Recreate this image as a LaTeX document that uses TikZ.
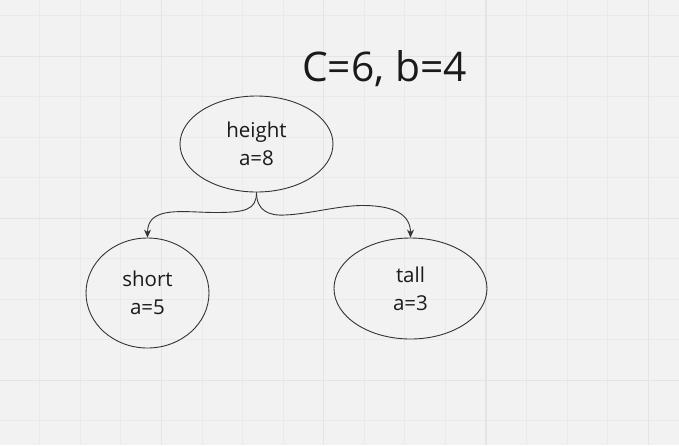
\documentclass[tikz,border=0pt]{standalone}
\usepackage{fontspec}
\setmainfont{Open Sans}
\usepackage{tikz}
\usetikzlibrary{arrows.meta,positioning,shapes.geometric}
\definecolor{paper}{HTML}{F2F2F2}
\definecolor{minorgrid}{HTML}{EAEAEA}
\definecolor{majorgrid}{HTML}{E4E4E4}
\definecolor{ink}{HTML}{333333}
\definecolor{txt}{HTML}{1A1A1A}

\begin{document}
\begin{tikzpicture}[x=1pt, y=-1pt,
  blob/.style={draw=ink, line width=0.9pt, ellipse, inner sep=0pt,
               align=center, text=txt,
               font=\fontsize{20.5}{28}\selectfont},
  link/.style={draw=ink, line width=0.9pt,
               -{Stealth[length=8pt, width=7pt]}},
]
\useasboundingbox (0,0) rectangle (679,445);
% Background grid
\fill[paper] (0,0) rectangle (679,445);
\foreach \k in {0,...,17}
  \draw[minorgrid, line width=1pt] (-0.7+40.55*\k,0) -- (-0.7+40.55*\k,445);
\foreach \k in {-1,...,9}
  \draw[minorgrid, line width=1pt] (0,56.3+40.5*\k) -- (679,56.3+40.5*\k);
\foreach \k in {1,...,4}
  \draw[majorgrid, line width=1.2pt] (-0.7+162.2*\k,0) -- (-0.7+162.2*\k,445);
\foreach \k in {0,1,2}
  \draw[majorgrid, line width=1.2pt] (0,56.3+162*\k) -- (679,56.3+162*\k);

% Title
\node[anchor=base, text=txt, font=\fontsize{40.8}{48}\selectfont]
  (title) at (384.5,81.7) {C=6, b=4};

% Tree
\node[blob, minimum width=153pt, minimum height=96pt]
  (height) at (256.5,144) {height\\a=8};
\node[blob, minimum width=123pt, minimum height=110pt]
  (short) at (147.5,293) {short\\a=5};
\node[blob, minimum width=153pt, minimum height=101pt]
  (tall) at (410.5,288.5) {tall\\a=3};

% Connectors
\draw[link] (height.south) .. controls (256.5,210) and (245,212.5) .. (215,212.5)
  .. controls (185,212.5) and (147.5,205) .. (short.north);
\draw[link] (height.south) .. controls (256.5,210) and (268,216) .. (285,215)
  .. controls (310,214) and (340,205) .. (365,205.5)
  .. controls (395,206) and (410.5,215) .. (tall.north);
\end{tikzpicture}
\end{document}
